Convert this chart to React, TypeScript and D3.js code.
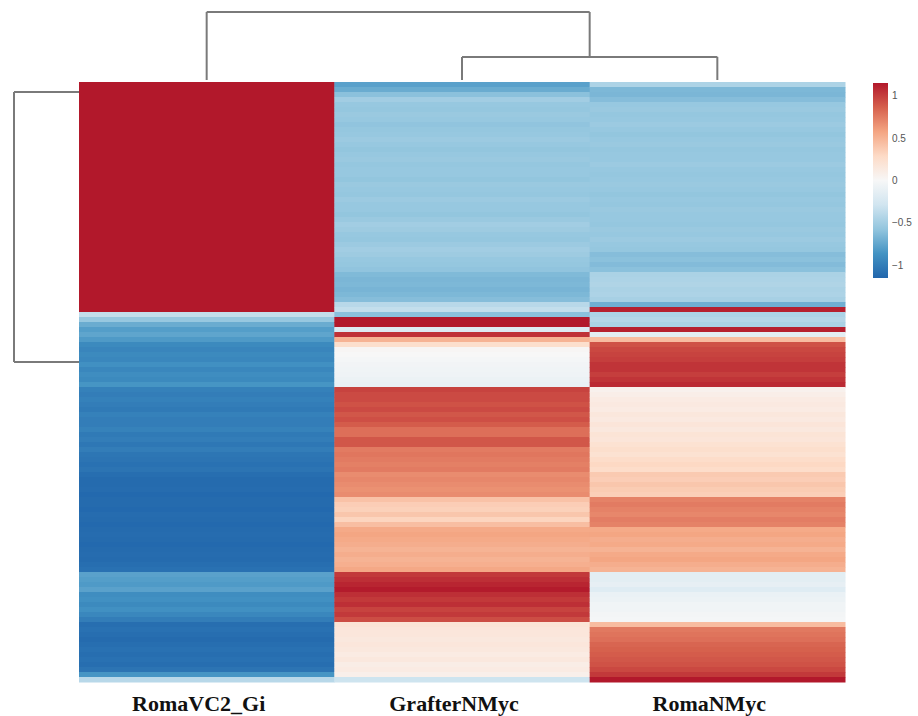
import React from 'react';
import * as d3 from 'd3';

// samples in column order
const samples = ['RomaVC2_Gi', 'GrafterNMyc', 'RomaNMyc'];

// scaled expression, one value per gene row (top to bottom)
const romaVC2 = [
  1.15, 1.15, 1.15, 1.15, 1.15, 1.15, 1.15, 1.15, 1.15, 1.15,
  1.15, 1.15, 1.15, 1.15, 1.15, 1.15, 1.15, 1.15, 1.15, 1.15,
  1.15, 1.15, 1.15, 1.15, 1.15, 1.15, 1.15, 1.15, 1.15, 1.15,
  1.15, 1.15, 1.15, 1.15, 1.15, 1.15, 1.15, 1.15, 1.15, 1.15,
  1.15, 1.15, 1.15, 1.15, 1.15, 1.15, -0.35, -0.55, -0.72, -0.8,
  -0.76, -0.82, -0.92, -0.95, -0.92, -0.94, -0.88, -0.94, -0.9, -0.92,
  -0.85, -0.98, -1.0, -0.98, -1.0, -1.02, -0.98, -1.0, -1.0, -0.97,
  -1.02, -1.0, -1.04, -1.0, -1.05, -1.06, -1.08, -1.06, -1.1, -1.12,
  -1.12, -1.11, -1.13, -1.12, -1.12, -1.13, -1.11, -1.12, -1.13, -1.12,
  -1.11, -1.12, -1.13, -1.12, -1.11, -1.12, -1.1, -1.08, -0.78, -0.8,
  -0.82, -0.78, -0.9, -0.88, -0.92, -0.88, -0.94, -1.0, -1.1, -1.08,
  -1.1, -1.12, -1.1, -1.08, -1.1, -1.08, -1.1, -1.06, -0.85, -0.4,
];

const grafterNMyc = [
  -0.78, -0.72, -0.6, -0.5, -0.55, -0.56, -0.54, -0.55, -0.58, -0.56,
  -0.55, -0.53, -0.55, -0.57, -0.55, -0.54, -0.56, -0.55, -0.55, -0.57,
  -0.54, -0.55, -0.56, -0.53, -0.55, -0.55, -0.57, -0.54, -0.5, -0.52,
  -0.55, -0.56, -0.53, -0.5, -0.52, -0.55, -0.56, -0.58, -0.64, -0.66,
  -0.65, -0.67, -0.65, -0.62, -0.4, -0.35, -0.6, 1.15, 1.15, -0.2,
  1.05, 0.5, 0.25, 0.02, 0.0, -0.02, -0.04, -0.05, -0.06, -0.08,
  -0.1, 0.98, 0.95, 0.95, 0.92, 0.95, 0.9, 0.93, 0.88, 0.8,
  0.8, 0.9, 0.9, 0.75, 0.77, 0.75, 0.73, 0.75, 0.68, 0.7,
  0.68, 0.66, 0.68, 0.42, 0.36, 0.34, 0.4, 0.32, 0.44, 0.55,
  0.57, 0.55, 0.53, 0.5, 0.53, 0.5, 0.52, 0.56, 1.02, 1.06,
  1.1, 1.14, 1.06, 1.02, 1.06, 0.98, 1.02, 0.94, 0.2, 0.17,
  0.17, 0.15, 0.17, 0.15, 0.12, 0.15, 0.1, 0.12, 0.08, -0.3,
];

const romaNMyc = [
  -0.45, -0.65, -0.66, -0.62, -0.55, -0.54, -0.56, -0.55, -0.53, -0.55,
  -0.57, -0.55, -0.54, -0.56, -0.55, -0.55, -0.53, -0.55, -0.56, -0.55,
  -0.54, -0.55, -0.57, -0.55, -0.56, -0.54, -0.55, -0.55, -0.56, -0.54,
  -0.55, -0.53, -0.55, -0.56, -0.62, -0.6, -0.63, -0.6, -0.46, -0.45,
  -0.44, -0.46, -0.45, -0.48, -0.7, 1.12, -0.45, -0.42, -0.46, 1.12,
  -0.15, 0.45, 0.92, 0.96, 0.98, 1.0, 1.04, 1.04, 1.0, 1.04,
  1.08, 0.06, 0.09, 0.12, 0.14, 0.12, 0.16, 0.14, 0.18, 0.15,
  0.2, 0.18, 0.22, 0.25, 0.22, 0.27, 0.3, 0.27, 0.38, 0.36,
  0.4, 0.37, 0.35, 0.72, 0.75, 0.72, 0.7, 0.74, 0.72, 0.55,
  0.57, 0.53, 0.55, 0.5, 0.55, 0.57, 0.53, 0.5, -0.15, -0.15,
  -0.12, -0.18, -0.1, -0.08, -0.05, -0.05, -0.03, -0.02, 0.45, 0.76,
  0.78, 0.8, 0.84, 0.86, 0.88, 0.9, 0.92, 0.96, 1.02, 1.15,
];

const columns = [romaVC2, grafterNMyc, romaNMyc];

// legend ticks
const legendTicks = [1, 0.5, 0, -0.5, -1];

// RdBu palette, blue (low) to red (high)
const palette = ['#2166ac', '#4393c3', '#92c5de', '#d1e5f0', '#f7f7f7', '#fddbc7', '#f4a582', '#d6604d', '#b2182b'];
const vmin = -1.15;
const vmax = 1.15;

const App = () => {
  const width = 918;
  const height = 716;
  const left = 79, right = 845, top = 82, bottom = 682;

  const nRows = romaVC2.length;
  const x = d3.scaleBand<string>().domain(samples).range([left, right]);
  const y = d3.scaleBand<number>().domain(d3.range(nRows)).range([top, bottom]);

  const color = d3.scaleLinear<string>()
    .domain(d3.range(palette.length).map(i => vmin + (i * (vmax - vmin)) / (palette.length - 1)))
    .range(palette)
    .interpolate(d3.interpolateRgb)
    .clamp(true);

  // column dendrogram: leaf centres + merge heights
  const cx = (s: string) => (x(s) as number) + x.bandwidth() / 2;
  const hScale = d3.scaleLinear().domain([0, 2]).range([80, 12]);
  const lowMerge = 0.68;
  const topMerge = 2;
  const midX = (cx('GrafterNMyc') + cx('RomaNMyc')) / 2;

  const colLines = [
    [cx('GrafterNMyc'), hScale(0), cx('GrafterNMyc'), hScale(lowMerge)],
    [cx('RomaNMyc'), hScale(0), cx('RomaNMyc'), hScale(lowMerge)],
    [cx('GrafterNMyc'), hScale(lowMerge), cx('RomaNMyc'), hScale(lowMerge)],
    [midX, hScale(lowMerge), midX, hScale(topMerge)],
    [cx('RomaVC2_Gi'), hScale(0), cx('RomaVC2_Gi'), hScale(topMerge)],
    [cx('RomaVC2_Gi'), hScale(topMerge), midX, hScale(topMerge)],
  ];

  // row dendrogram
  const rowA = (y(2) as number);
  const rowB = (y(56) as number);
  const rScale = d3.scaleLinear().domain([0, 1]).range([left, 14]);
  const rowLines = [
    [rScale(0), rowA, rScale(1), rowA],
    [rScale(0), rowB, rScale(1), rowB],
    [rScale(1), rowA, rScale(1), rowB],
  ];

  const legendY = d3.scaleLinear().domain([vmax, vmin]).range([83, 278]);

  return (
    <svg width={width} height={height} style={{ position: 'absolute', left: 0, top: 0, background: '#fff' }}>
      <defs>
        <linearGradient id="lg" x1="0" y1="1" x2="0" y2="0">
          {palette.map((c, i) => (
            <stop key={i} offset={`${(i / (palette.length - 1)) * 100}%`} stopColor={c} />
          ))}
        </linearGradient>
      </defs>
      {columns.map((col, j) => (
        <g key={samples[j]}>
          {col.map((v, i) => (
            <rect
              key={i}
              x={x(samples[j])}
              y={y(i)}
              width={x.bandwidth() + 0.5}
              height={y.bandwidth() + 0.5}
              fill={color(v)}
            />
          ))}
        </g>
      ))}
      <g stroke="#7a7a7a" strokeWidth={2} fill="none">
        {colLines.map((l, i) => (
          <line key={'c' + i} x1={l[0]} y1={l[1]} x2={l[2]} y2={l[3]} />
        ))}
        {rowLines.map((l, i) => (
          <line key={'r' + i} x1={l[0]} y1={l[1]} x2={l[2]} y2={l[3]} />
        ))}
      </g>
      {samples.map(s => (
        <text
          key={s}
          x={cx(s) - 8}
          y={711}
          textAnchor="middle"
          fontFamily="'Liberation Serif', 'Times New Roman', serif"
          fontWeight="bold"
          fontSize={22}
          fill="#111"
        >
          {s}
        </text>
      ))}
      <rect x={873} y={legendY(vmax)} width={15} height={legendY(vmin) - legendY(vmax)} fill="url(#lg)" />
      {legendTicks.map(t => (
        <text
          key={t}
          x={892}
          y={legendY(t) + 3.5}
          fontFamily="'Liberation Sans', Arial, sans-serif"
          fontSize={10}
          fill="#555"
        >
          {t < 0 ? '\u2212' + Math.abs(t) : String(t)}
        </text>
      ))}
    </svg>
  );
};

export default App;
